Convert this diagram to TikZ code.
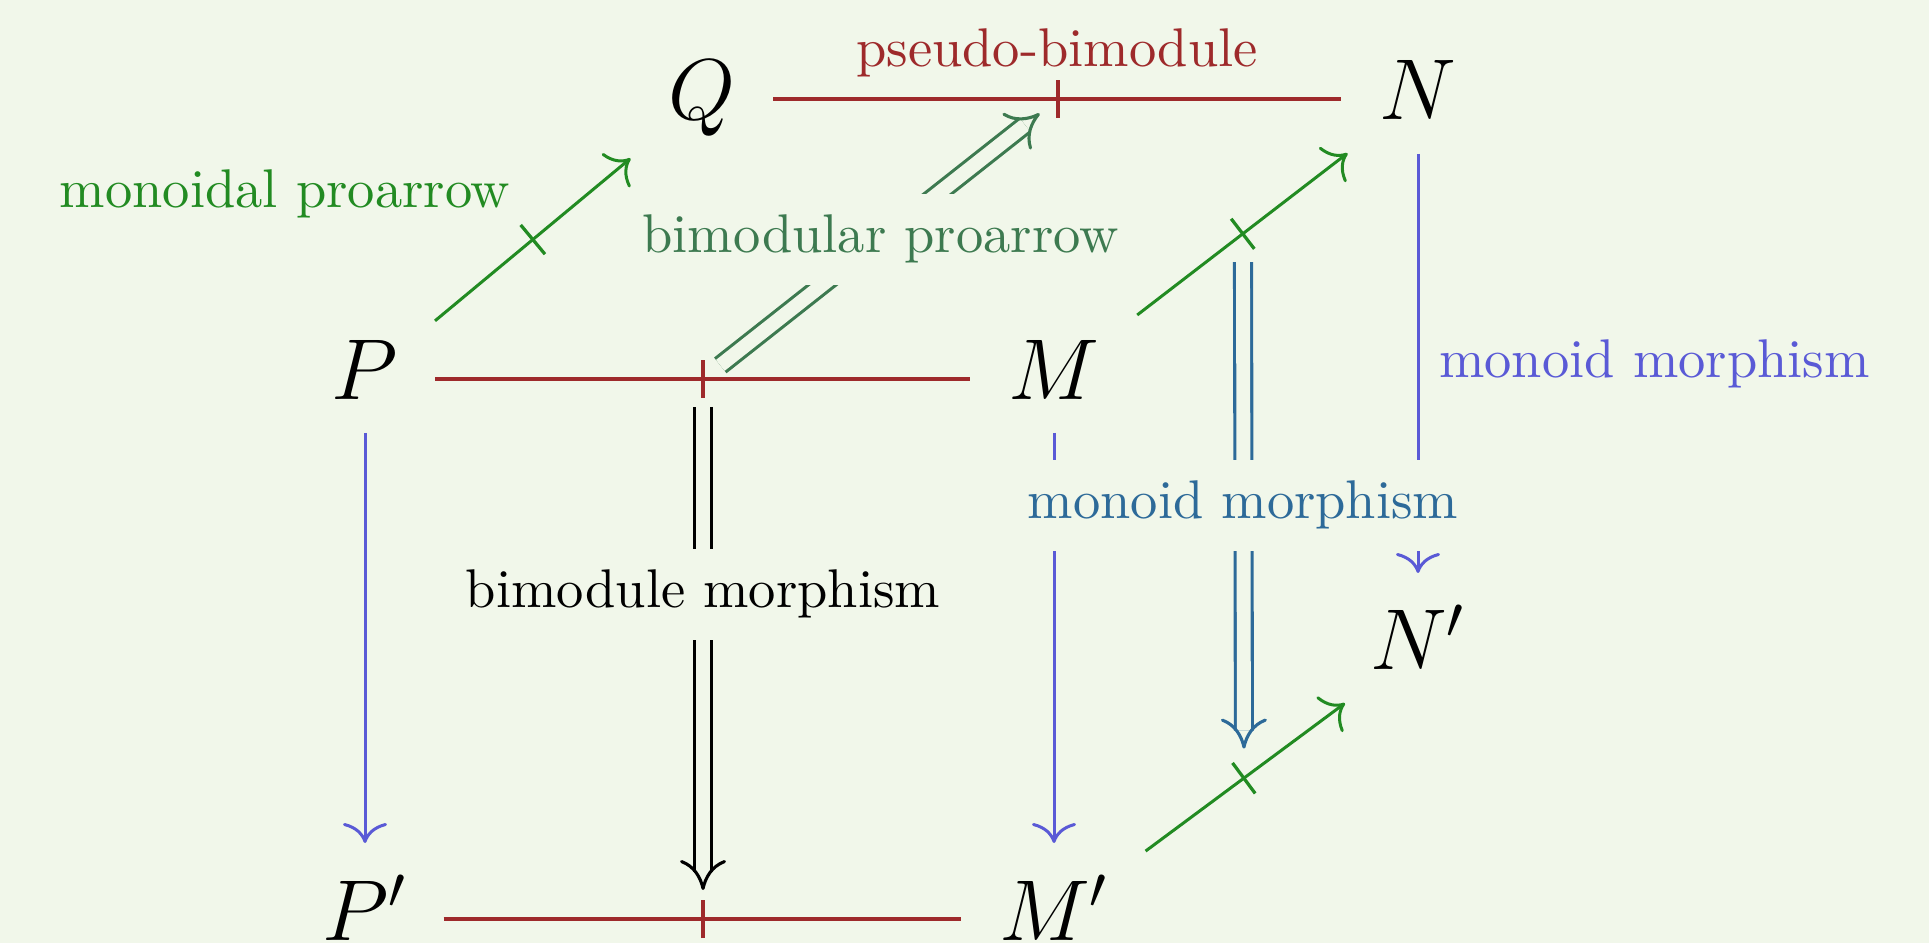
\documentclass[tikz,border=0pt]{standalone}
\usetikzlibrary{arrows.meta,decorations.markings}
\definecolor{bg}{HTML}{F1F7EA}
\definecolor{pred}{HTML}{9E2A2B}
\definecolor{mgreen}{HTML}{228B22}
\definecolor{dgreen}{HTML}{3D7A50}
\definecolor{mblue}{HTML}{5A5AD6}
\definecolor{tblue}{HTML}{2D6A99}
\tikzset{
 obj/.style={inner sep=0pt, text height=12pt, text depth=3.6pt, font=\fontsize{17.5pt}{21pt}\selectfont},
 lab/.style={anchor=base, inner sep=4.3pt, font=\fontsize{10.9pt}{13pt}\selectfont},
 labfill/.style={lab, fill=bg},
 cmhead/.style={-{Computer Modern Rightarrow[length=4pt,width=8.8pt]}},
 dblhead/.style={-{Computer Modern Rightarrow[length=6pt,width=9.2pt]}},
 proline/.style={draw=pred, line width=0.8pt},
 monarrow/.style={draw=mgreen, line width=0.6pt, cmhead},
 morarrow/.style={draw=mblue, line width=0.6pt, cmhead},
 dblline/.style={double=bg, double distance=2.78pt, line width=0.62pt},
 headline/.style={line width=0.62pt, dblhead},
 barmark/.style={postaction={decorate, decoration={markings, mark=at position #1 with {\draw[arrows=-, shorten <=0pt, shorten >=0pt, line cap=butt, line width=0.65pt] (0pt,-3.8pt) -- (0pt,3.8pt);}}}},
}
\begin{document}
\begin{tikzpicture}[x=0.2pt,y=-0.2pt]
\fill[bg] (0,0) rectangle (1929,943);
\useasboundingbox (0,0) rectangle (1929,943);
% objects
\node[obj] (P) at (365,379) {$P$};
\node[obj] (M) at (1054,379) {$M$};
\node[obj] (Q) at (702,99) {$Q$};
\node[obj] (N) at (1418,99) {$N$};
\node[obj] (Np) at (1418,649) {$N'$};
\node[obj] (Pp) at (365,919) {$P'$};
\node[obj] (Mp) at (1054,919) {$M'$};
% proarrows (red)
\draw[proline, barmark=0.4906, shorten <=14pt, shorten >=16.8pt] (P.center) -- coordinate[pos=0.4906] (pm) (M.center);
\draw[proline, barmark=0.4972, shorten <=14.2pt, shorten >=15.4pt] (Q.center) -- coordinate[pos=0.4972] (qn) (N.center);
\draw[proline, barmark=0.4906, shorten <=15.7pt, shorten >=18.6pt] (Pp.center) -- coordinate[pos=0.4906] (ppm) (Mp.center);
% monoidal proarrows (green)
\draw[monarrow, barmark=0.4985, shorten <=18.2pt, shorten >=18.6pt] (P.center) -- (Q.center);
\draw[monarrow, barmark=0.519, shorten <=21pt, shorten >=17.8pt] (M.center) -- coordinate[pos=0.519] (mn) (N.center);
\draw[monarrow, barmark=0.522, shorten <=22.8pt, shorten >=18.2pt] (Mp.center) -- coordinate[pos=0.522] (mnp) (Np.center);
% monoid morphisms (blue)
\draw[morarrow, shorten <=10.8pt, shorten >=15.2pt] (P.center) -- (Pp.center);
\draw[morarrow, shorten <=10.8pt, shorten >=15.2pt] (M.center) -- (Mp.center);
\draw[morarrow, shorten <=11pt, shorten >=15.2pt] (N.center) -- (Np.center);
% double arrows
\draw[dblline, draw=black, shorten <=5.6pt, shorten >=9.4pt] (pm) -- (ppm);
\draw[draw=black, headline, shorten <=101.6pt, shorten >=5.8pt] (pm) -- (ppm);
\draw[dblline, draw=dgreen, shorten <=4.4pt, shorten >=8.4pt] (pm) -- (qn);
\draw[draw=dgreen, headline, shorten <=85.1pt, shorten >=4.7pt] (pm) -- (qn);
\draw[dblline, draw=tblue, shorten <=5.7pt, shorten >=9.5pt] (mn) -- (mnp);
\draw[draw=tblue, headline, shorten <=102.4pt, shorten >=5.9pt] (mn) -- (mnp);
% labels
\node[lab, text=mgreen] (lmon) at (285,208) {monoidal proarrow};
\node[lab, text=pred] (lpseudo) at (1057,67) {pseudo-bimodule};
\node[labfill, text=dgreen] (lbimod) at (880.5,253) {bimodular proarrow};
\node[labfill, text=black] (lbmor) at (703,608) {bimodule morphism};
\node[labfill, text=tblue] (lmm) at (1243,519) {monoid morphism};
\node[lab, text=mblue] (lmr) at (1654.5,378) {monoid morphism};
\end{tikzpicture}
\end{document}
